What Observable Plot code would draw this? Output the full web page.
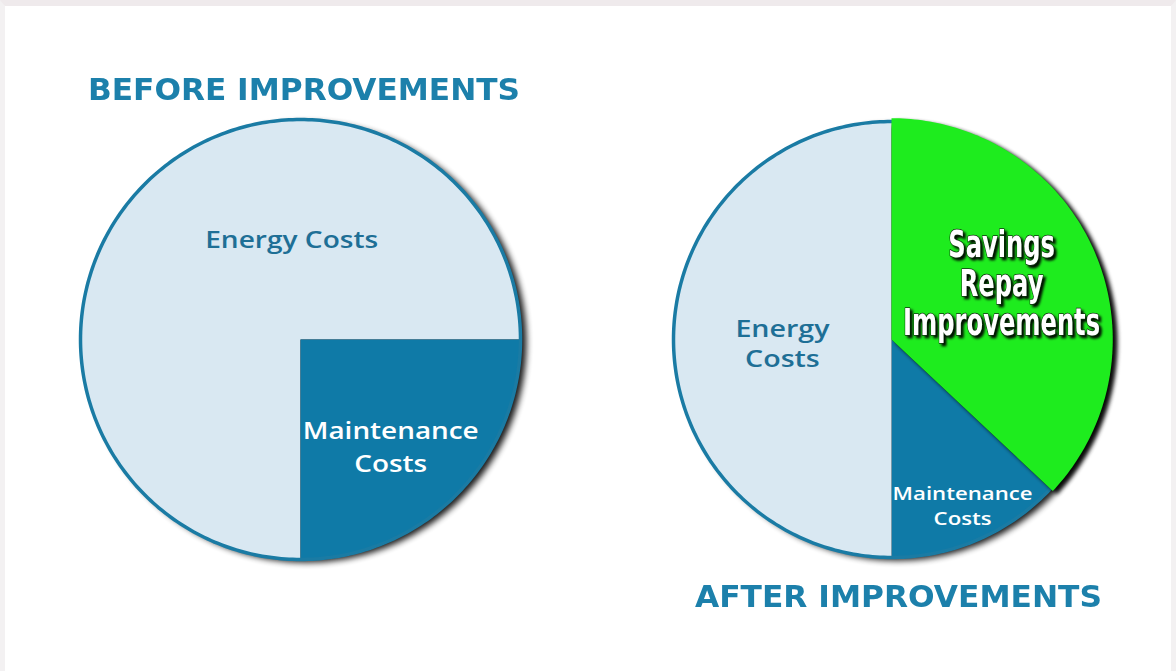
<!DOCTYPE html>
<html>
<head>
<meta charset="utf-8">
<script src="https://cdn.jsdelivr.net/npm/d3@7"></script>
<script src="https://cdn.jsdelivr.net/npm/@observablehq/plot@0.6"></script>
<style>
  html, body { margin: 0; padding: 0; background: #fff; }
  #page { position: relative; width: 1176px; height: 671px; overflow: hidden; background: #fff;
          box-sizing: border-box; border-top: 6px solid #efeaec; border-left: 5px solid #f3f1f2; border-right: 5px solid #f3f1f2; }
  .title { position: absolute; font-family: "DejaVu Sans", sans-serif; font-weight: bold; font-size: 30px;
           line-height: 1; color: #1c80ab; white-space: nowrap; transform-origin: 0 0; }
  .pie { position: absolute; }
</style>
</head>
<body>
<div id="page"></div>
<script>
// ---------- data ----------
const beforeTitle = "BEFORE IMPROVEMENTS";
const beforeCategories = ["Energy Costs", "Maintenance Costs"];
const beforeValues = [75, 25];

const afterTitle = "AFTER IMPROVEMENTS";
const afterCategories = ["Savings Repay Improvements", "Maintenance Costs", "Energy Costs"];
const afterValues = [37, 13, 50];

// ---------- styles ----------
const LIGHT = "#d9e8f2", DARK = "#0f7aa7", GREEN = "#1eec1e", OUTLINE = "#1a7ba4", LABEL = "#1e6f96";
const BORDER_L = 5, BORDER_T = 6;

const page = document.getElementById("page");

function piePoints(categories, values, startAngle) {
  const arcs = d3.pie().sort(null).startAngle(startAngle).endAngle(startAngle + 2 * Math.PI)(values);
  const pts = [];
  arcs.forEach((a, i) => {
    const cat = categories[i];
    pts.push({cat, x: 0, y: 0});
    const n = Math.max(2, Math.ceil((a.endAngle - a.startAngle) / (Math.PI / 180)));
    for (let k = 0; k <= n; k++) {
      const t = a.startAngle + (a.endAngle - a.startAngle) * k / n;
      pts.push({cat, x: Math.sin(t), y: Math.cos(t)});
    }
    pts.push({cat, x: 0, y: 0});
  });
  return pts;
}
const circle = d3.range(0, 361).map(d => ({x: Math.sin(d * Math.PI / 180), y: Math.cos(d * Math.PI / 180)}));

function addFilter(svg, id, std, opacity) {
  const ns = "http://www.w3.org/2000/svg";
  const defs = document.createElementNS(ns, "defs");
  defs.innerHTML = `<filter id="${id}" x="-20%" y="-20%" width="140%" height="140%"><feGaussianBlur stdDeviation="${std}"/><feComponentTransfer><feFuncA type="linear" slope="${opacity}"/></feComponentTransfer></filter>`;
  svg.insertBefore(defs, svg.firstChild);
}
function addDropShadow(svg, id) {
  const ns = "http://www.w3.org/2000/svg";
  const defs = document.createElementNS(ns, "defs");
  defs.innerHTML = `<filter id="${id}" x="-10%" y="-10%" width="120%" height="120%"><feDropShadow dx="2.5" dy="2.5" stdDeviation="1.2" flood-color="#000" flood-opacity="0.95"/></filter>`;
  svg.insertBefore(defs, svg.firstChild);
}

function place(svg, cx, cy, S) {
  svg.classList.add("pie");
  svg.style.left = (cx - S / 2 - BORDER_L) + "px";
  svg.style.top = (cy - S / 2 - BORDER_T) + "px";
  page.appendChild(svg);
}

// stretch a text group horizontally (about its centre) to a target width
function fitTexts(svg, widths) {
  const groups = svg.querySelectorAll('g[aria-label="text"]');
  widths.forEach((w, i) => {
    if (w == null) return;
    const t = groups[i].querySelector("text");
    const b = t.getBBox();
    const sx = w / b.width;
    const cx = b.x + b.width / 2;
    const tr = t.getAttribute("transform") || "";
    t.setAttribute("transform", `${tr} translate(${cx},0) scale(${sx},1) translate(${-cx},0)`);
  });
}

const LABEL_FONT = "Open Sans";
const BIG_FONT = "DejaVu Sans";

// ---------- BEFORE pie ----------
{
  const S = 480, R = 220, D = S / 2 / R;
  const pts = piePoints(beforeCategories, beforeValues, Math.PI);
  const svg = Plot.plot({
    width: S, height: S, margin: 0,
    x: {domain: [-D, D], axis: null},
    y: {domain: [-D, D], axis: null},
    color: {domain: beforeCategories, range: [LIGHT, DARK]},
    marks: [
      Plot.line(circle, {x: "x", y: "y", fill: "black", stroke: "none", dx: 6, dy: 3}),
      Plot.line(pts, {x: "x", y: "y", z: "cat", fill: "cat", stroke: "none"}),
      Plot.line(circle, {x: "x", y: "y", stroke: OUTLINE, strokeWidth: 3.5, fill: "none"}),
      Plot.text([beforeCategories[0]], {x: () => -0.04, y: () => 0.45, text: d => d,
        fontFamily: LABEL_FONT, fontWeight: 600, fontSize: 24, fill: LABEL}),
      Plot.text([beforeCategories[1]], {x: () => 0.41, y: () => -0.48, text: d => d.replace(" ", "\n"),
        fontFamily: LABEL_FONT, fontWeight: 600, fontSize: 24, lineHeight: 1.38, fill: "white"})
    ]
  });
  addFilter(svg, "shB", 3, 0.9);
  svg.querySelectorAll('g[aria-label="line"]')[0].setAttribute("filter", "url(#shB)");
  place(svg, 300, 339, S);
  fitTexts(svg, [173, 176]);
}

// ---------- AFTER pie ----------
{
  const S = 480, R = 218, D = S / 2 / R;
  const pts = piePoints(afterCategories, afterValues, 0);
  const base = pts.filter(d => d.cat !== afterCategories[0]);
  const green = pts.filter(d => d.cat === afterCategories[0]).map(d => ({...d, x: d.x * 1.015, y: d.y * 1.015}));
  const svg = Plot.plot({
    width: S, height: S, margin: 0,
    x: {domain: [-D, D], axis: null},
    y: {domain: [-D, D], axis: null},
    color: {domain: afterCategories, range: [GREEN, DARK, LIGHT]},
    marks: [
      Plot.line(circle, {x: "x", y: "y", fill: "black", stroke: "none", dx: 6, dy: 3}),
      Plot.line(base, {x: "x", y: "y", z: "cat", fill: "cat", stroke: "none"}),
      Plot.line(circle, {x: "x", y: "y", stroke: OUTLINE, strokeWidth: 3.5, fill: "none"}),
      Plot.line(green, {x: "x", y: "y", fill: "black", stroke: "none", dx: 4, dy: 3}),
      Plot.line(green, {x: "x", y: "y", z: "cat", fill: "cat", stroke: "none"}),
      Plot.text([afterCategories[2]], {x: () => -0.50, y: () => -0.014, text: d => d.replace(" ", "\n"),
        fontFamily: LABEL_FONT, fontWeight: 600, fontSize: 23, lineHeight: 1.3, fill: LABEL}),
      Plot.text([afterCategories[1]], {x: () => 0.326, y: () => -0.757, text: d => d.replace(" ", "\n"),
        fontFamily: LABEL_FONT, fontWeight: 600, fontSize: 17.5, lineHeight: 1.45, fill: "white"}),
      Plot.text([afterCategories[0]], {x: () => 0.505, y: () => 0.257, text: d => d.split(" ").join("\n"),
        fontFamily: BIG_FONT, fontWeight: "bold", fontSize: 38,
        lineHeight: 1.02, fill: "white", stroke: "#0b2f0b", strokeWidth: 1.5, paintOrder: "stroke"})
    ]
  });
  addFilter(svg, "shA", 3, 0.9);
  addFilter(svg, "shG", 2, 0.9);
  addDropShadow(svg, "dsT");
  const groups = svg.querySelectorAll('g[aria-label="line"]');
  groups[0].setAttribute("filter", "url(#shA)");
  groups[3].setAttribute("filter", "url(#shG)");
  svg.querySelectorAll('g[aria-label="text"]')[2].setAttribute("filter", "url(#dsT)");
  place(svg, 891, 339, S);
  fitTexts(svg, [95, 140, 197]);
}

// ---------- titles ----------
function addTitle(text, left, top, width) {
  const el = document.createElement("div");
  el.className = "title";
  el.textContent = text;
  el.style.left = left + "px";
  el.style.top = top + "px";
  page.appendChild(el);
  const w = el.getBoundingClientRect().width;
  el.style.transform = `scaleX(${width / w})`;
}
addTitle(beforeTitle, 88 - BORDER_L, 74.6 - BORDER_T, 432);
addTitle(afterTitle, 695 - BORDER_L, 581.6 - BORDER_T, 407);
</script>
</body>
</html>
